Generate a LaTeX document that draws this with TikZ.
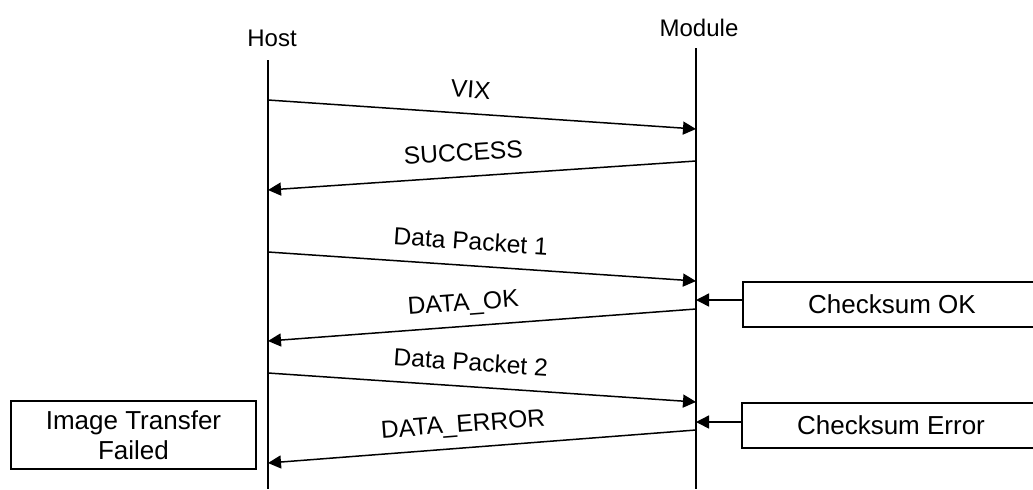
\documentclass[tikz,border=0pt]{standalone}
\usepackage{fontspec}
\setmainfont{Liberation Sans}
\usetikzlibrary{arrows.meta,positioning}
\tikzset{%
  >={Triangle[length=6.5pt,width=6.5pt]},
  life/.style={line width=1pt},
  msg/.style={line width=0.75pt,->},
  lbl/.style={sloped,above=5pt,inner sep=0pt,text height=9pt,text depth=2.5pt,%
    font=\fontsize{12.3}{14}\selectfont},
  head/.style={inner sep=0pt,font=\fontsize{12}{14}\selectfont},
  box/.style={draw,line width=0.75pt,rectangle,align=center,inner sep=1pt,%
    font=\fontsize{13}{15}\selectfont}
}

\begin{document}
\begin{tikzpicture}[x=0.5pt,y=-0.5pt]
\useasboundingbox (0,0) rectangle (1033,489);
% lifelines
\node[head] (host) at (272,38) {Host};
\node[head] (module) at (699,28) {Module};
\coordinate (hostTop) at (268,60);
\coordinate (hostEnd) at (268,489);
\coordinate (modTop) at (696,48);
\coordinate (modEnd) at (696,489);
\draw[life] (hostTop) -- (hostEnd);
\draw[life] (modTop) -- (modEnd);
% message points
\coordinate (h1) at (268,100);  \coordinate (m1) at (696,129);
\coordinate (m2) at (696,161);  \coordinate (h2) at (268,190);
\coordinate (h3) at (268,252);  \coordinate (m3) at (696,281);
\coordinate (m4) at (696,309);  \coordinate (h4) at (268,341);
\coordinate (h5) at (268,373);  \coordinate (m5) at (696,402);
\coordinate (m6) at (696,430);  \coordinate (h6) at (268,463);
\draw[msg] (h1) -- node[lbl,pos=0.47] {VIX} (m1);
\draw[msg] (m2) -- node[lbl,pos=0.54] {SUCCESS} (h2);
\draw[msg] (h3) -- node[lbl,pos=0.47] {Data Packet 1} (m3);
\draw[msg] (m4) -- node[lbl,pos=0.54] {DATA\_OK} (h4);
\draw[msg] (h5) -- node[lbl,pos=0.47] {Data Packet 2} (m5);
\draw[msg] (m6) -- node[lbl,pos=0.54] {DATA\_ERROR} (h6);
% checksum boxes
\node[box,minimum width=149pt,minimum height=22.5pt] (ok) at (892,304.5) {Checksum OK};
\node[box,minimum width=149pt,minimum height=22.5pt] (err) at (891,425.5) {Checksum Error};
\coordinate (mOK) at (696,300);
\coordinate (mErr) at (696,422);
\draw[msg] (ok.west |- mOK) -- (mOK);
\draw[msg] (err.west |- mErr) -- (mErr);
% result
\node[box,minimum width=122.5pt,minimum height=34pt] (fail) at (133.5,435) {Image Transfer\\Failed};
\end{tikzpicture}
\end{document}
